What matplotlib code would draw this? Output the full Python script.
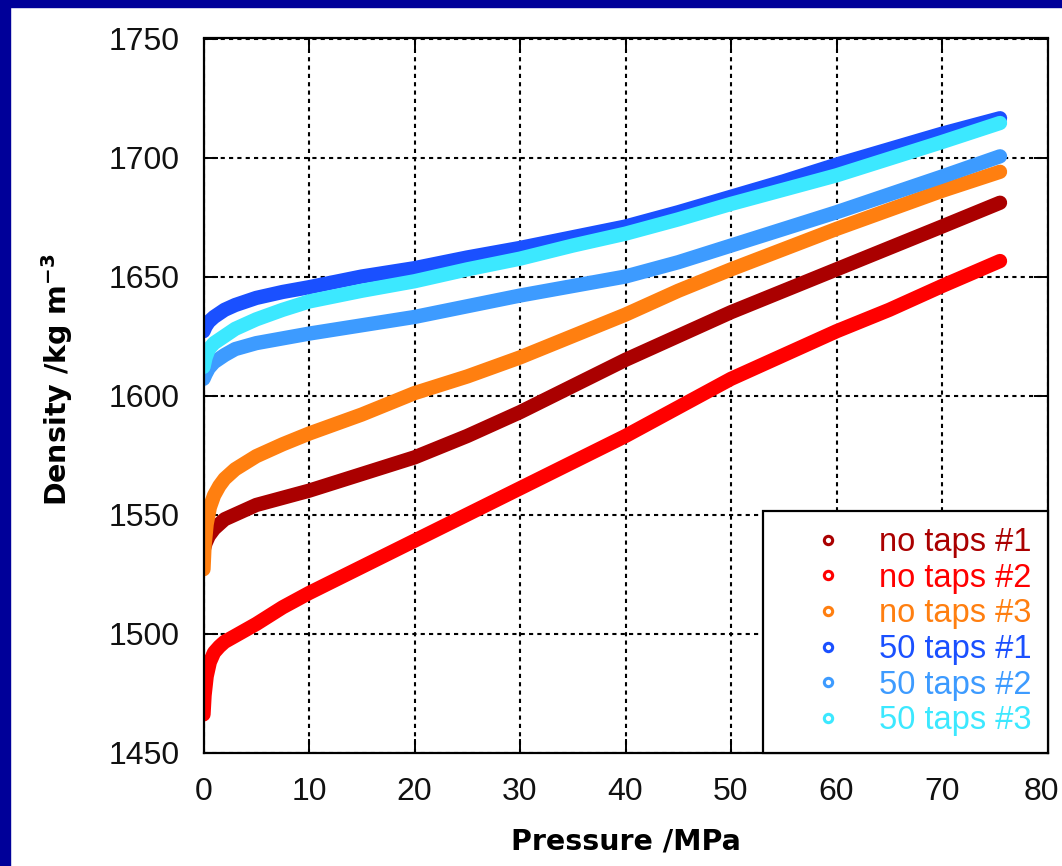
import matplotlib.pyplot as plt
from matplotlib.lines import Line2D
from matplotlib.patches import Rectangle
from matplotlib.transforms import ScaledTranslation

# compaction runs: pressure (MPa) vs density (kg/m3)
p_nt1 = [0, 0.2, 0.5, 1, 2, 3.5, 5, 7.5, 10, 15, 20, 25, 30, 35, 40, 45, 50, 55, 60, 65, 70, 75.5]
rho_nt1 = [1535, 1538, 1541, 1544, 1548, 1551, 1554, 1557, 1560, 1567, 1574, 1583, 1593, 1604, 1615,
           1625, 1635, 1644, 1653, 1662, 1671, 1681]

p_nt2 = [0, 0.1, 0.3, 0.6, 1, 1.5, 2, 3, 4, 5, 7.5, 10, 15, 20, 25, 30, 35, 40, 45, 50, 55, 60, 65, 70, 75.5]
rho_nt2 = [1466, 1474, 1482, 1488, 1492, 1494.5, 1496.5, 1499, 1501.5, 1504, 1511, 1517, 1528, 1539, 1550,
           1561, 1572, 1583, 1595, 1607, 1617, 1627, 1636, 1646, 1656.5]

p_nt3 = [0, 0.1, 0.3, 0.6, 1, 1.5, 2, 3, 5, 7.5, 10, 15, 20, 25, 30, 35, 40, 45, 50, 55, 60, 65, 70, 75.5]
rho_nt3 = [1527, 1537, 1546, 1553, 1558, 1562, 1565, 1569, 1574.5, 1579.5, 1584, 1592, 1601, 1608, 1616,
           1625, 1634, 1644, 1653, 1661.5, 1670, 1678, 1686, 1694]

p_50t1 = [0, 0.2, 0.5, 1, 2, 3, 5, 7.5, 10, 15, 20, 25, 30, 35, 40, 45, 50, 55, 60, 65, 70, 75.5]
rho_50t1 = [1627, 1629, 1631, 1633, 1636, 1638, 1641, 1643.5, 1645.5, 1650, 1653.5, 1658, 1662, 1666.5,
            1671, 1677, 1683.5, 1690, 1697, 1703.5, 1710, 1716.5]

p_50t2 = [0, 0.2, 0.5, 1, 2, 3, 5, 7.5, 10, 15, 20, 25, 30, 35, 40, 45, 50, 55, 60, 65, 70, 75.5]
rho_50t2 = [1607, 1609, 1611.5, 1614, 1617, 1619.5, 1622, 1624, 1626, 1629.5, 1633, 1637.5, 1642, 1646,
            1650, 1656, 1663, 1670, 1677, 1684.5, 1692, 1700.5]

p_50t3 = [0, 0.2, 0.5, 1, 2, 3, 5, 7.5, 10, 15, 20, 25, 30, 35, 40, 45, 50, 55, 60, 65, 70, 75.5]
rho_50t3 = [1612, 1616, 1619.5, 1622, 1625, 1628, 1632, 1636, 1639.5, 1644, 1648, 1653, 1657.5, 1663,
            1668, 1674, 1680.5, 1686.5, 1692.5, 1699.5, 1706.5, 1714.5]

labels = ['no taps #1', 'no taps #2', 'no taps #3', '50 taps #1', '50 taps #2', '50 taps #3']
colors = ['#aa0000', '#ff0000', '#ff7f10', '#1a50ff', '#3d9bff', '#3ce8ff']
runs = [(p_nt1, rho_nt1), (p_nt2, rho_nt2), (p_nt3, rho_nt3),
        (p_50t1, rho_50t1), (p_50t2, rho_50t2), (p_50t3, rho_50t3)]

plt.rcParams['mathtext.default'] = 'regular'

fig = plt.figure(figsize=(10.62, 8.66), dpi=100)
fig.patch.set_facecolor('white')
# slide border
fig.patches.append(Rectangle((0, 0), 10 / 1062, 1, transform=fig.transFigure,
                             color='#000099', zorder=0))
fig.patches.append(Rectangle((0, 1 - 7 / 866), 1, 7 / 866, transform=fig.transFigure,
                             color='#000099', zorder=0))

ax = fig.add_axes([203.5 / 1062, 113.5 / 866, 844 / 1062, 714 / 866])

for (p, rho), c in zip(runs, colors):
    ax.plot(p, rho, color=c, lw=10.3, solid_capstyle='round', solid_joinstyle='round')

ax.set_xlim(0, 80)
ax.set_ylim(1450, 1750)
ax.set_xticks(range(0, 81, 10))
ax.set_yticks(range(1450, 1751, 50))
ax.set_axisbelow(True)
ax.grid(True, color='black', lw=1.5, linestyle=(0, (2.0, 2.0)))
ax.tick_params(direction='in', length=10, width=1.4, top=True, right=True,
               labelsize=23, colors='black', pad=17)
ax.tick_params(axis='x', pad=18)
for lab in ax.get_xticklabels() + ax.get_yticklabels():
    lab.set_fontfamily('Liberation Sans')
    lab.set_color('#111111')
# last x label sits against the right edge
last = ax.get_xticklabels()[-1]
last.set_transform(last.get_transform() + ScaledTranslation(-6 / 100, 0, fig.dpi_scale_trans))
for s in ax.spines.values():
    s.set_linewidth(1.6)

fig.text(626 / 1062, 1 - 842 / 866, 'Pressure /MPa', ha='center', va='center',
         fontsize=20.5, fontweight='bold', family='DejaVu Sans')
fig.text(57 / 1062, 1 - 380 / 866, r'Density /kg m$^{-3}$', ha='center', va='center',
         rotation=90, fontsize=20.5, fontweight='bold', family='DejaVu Sans')

handles = [Line2D([], [], ls='none', marker='o', ms=6, mfc='white', mec=c, mew=2.2)
           for c in colors]
leg = ax.legend(handles, labels, loc='lower right', bbox_to_anchor=(1, 0), borderaxespad=0,
                prop={'family': 'Liberation Sans', 'size': 23.5}, fancybox=False,
                borderpad=0.5, labelspacing=0.14, handlelength=3.0, handletextpad=0.05,
                framealpha=1)
leg.get_frame().set_edgecolor('black')
leg.get_frame().set_linewidth(1.6)
for t, c in zip(leg.get_texts(), colors):
    t.set_color(c)

fig.savefig('out.png', dpi=100)
